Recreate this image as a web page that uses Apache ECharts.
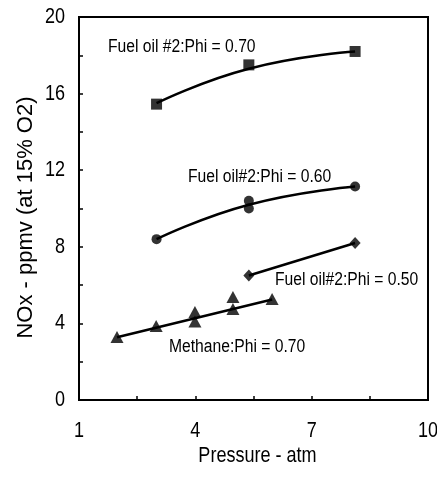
<!DOCTYPE html>
<html><head><meta charset="utf-8">
<script src="https://cdn.jsdelivr.net/npm/echarts@6/dist/echarts.min.js"></script>
<style>html,body{margin:0;padding:0;background:#fff}#c{width:437px;height:478px}</style>
</head><body><div id="c"></div>
<script>
// Data
const xTickLabels = [1, 4, 7, 10];
const xTicks = [2.5, 4, 5.5, 7, 8.5];
const yTickLabels = [0, 4, 8, 12, 16, 20];
const yTicks = [2, 4, 6, 8, 10, 12, 14, 16, 18];

const oil70X = [3.0, 5.38, 8.12];
const oil70Y = [15.45, 17.5, 18.2];
const oil70FitX = [3.0, 5.38, 8.12];
const oil70FitY = [15.5, 17.3, 18.2];

const oil60X = [3.0, 5.38, 5.38, 8.12];
const oil60Y = [8.4, 10.0, 10.4, 11.15];
const oil60FitX = [3.0, 5.38, 8.12];
const oil60FitY = [8.4, 10.2, 11.15];

const oil50X = [5.38, 8.12];
const oil50Y = [6.5, 8.2];

const methX = [1.98, 2.99, 3.99, 3.99, 4.97, 4.97, 5.98];
const methY = [3.29, 3.86, 4.6, 4.1, 5.38, 4.75, 5.27];
const methFitX = [1.98, 5.98];
const methFitY = [3.28, 5.25];

const labels = ['Fuel oil #2:Phi = 0.70', 'Fuel oil#2:Phi = 0.60', 'Fuel oil#2:Phi = 0.50', 'Methane:Phi = 0.70'];
const xName = 'Pressure - atm';
const yName = 'NOx - ppmv (at 15% O2)';

const zip = (a, b) => a.map((v, i) => [v, b[i]]);
const FONT = '"Liberation Sans", Arial, Helvetica, sans-serif';

const chart = echarts.init(document.getElementById('c'), null, {renderer: 'canvas'});
const lineStyle = {color: '#000', width: 2.5};
function fit(x, y) {
  return {type: 'line', data: zip(x, y), smooth: true, showSymbol: false, symbol: 'none',
    lineStyle: lineStyle, itemStyle: {color: '#000'}, silent: true, z: 2};
}
function pts(x, y, symbol, size) {
  return {type: 'scatter', data: zip(x, y), symbol: symbol, symbolSize: size,
    itemStyle: {color: '#000'}, silent: true, z: 3};
}

chart.setOption({
  animation: false,
  backgroundColor: '#fff',
  grid: {left: 79, top: 17, right: 9, bottom: 78, show: true, borderColor: '#000', borderWidth: 2, containLabel: false},
  xAxis: {
    type: 'value', min: 1, max: 10,
    axisLine: {show: true, lineStyle: {color: '#000', width: 2}},
    axisTick: {show: true, inside: true, length: 4, customValues: xTicks, lineStyle: {color: '#000', width: 1.5}},
    axisLabel: {show: false},
    splitLine: {show: false}
  },
  yAxis: {
    type: 'value', min: 0, max: 20,
    axisLine: {show: true, lineStyle: {color: '#000', width: 2}},
    axisTick: {show: true, inside: true, length: 4, customValues: yTicks, lineStyle: {color: '#000', width: 1.5}},
    axisLabel: {show: false},
    splitLine: {show: false}
  },
  series: [
    fit(oil70FitX, oil70FitY), pts(oil70X, oil70Y, 'rect', 11),
    fit(oil60FitX, oil60FitY), pts(oil60X, oil60Y, 'circle', 10),
    fit(oil50X, oil50Y), pts(oil50X, oil50Y, 'diamond', [11, 12]),
    fit(methFitX, methFitY), pts(methX, methY, 'triangle', [13, 12])
  ]
});

// Narrow-style text (Arial Narrow look): Liberation Sans squeezed horizontally.
function narrowText(t, x, y, size, sx, align, vAlign) {
  return {type: 'text', x: x, y: y, scaleX: sx, scaleY: 1, silent: true, z: 10,
    style: {text: t, x: 0, y: 0, font: size + 'px ' + FONT, fill: '#000', align: align, verticalAlign: vAlign}};
}
const g = [];
xTickLabels.forEach(v => {
  const p = chart.convertToPixel({gridIndex: 0}, [v, 0]);
  g.push(narrowText(String(v), p[0], p[1] + 31, 22, 0.82, 'center', 'middle'));
});
yTickLabels.forEach(v => {
  const p = chart.convertToPixel({gridIndex: 0}, [1, v]);
  g.push(narrowText(String(v), p[0] - 14, p[1], 22, 0.82, 'right', 'middle'));
});
const gx0 = chart.convertToPixel({gridIndex: 0}, [1, 0]);
const gx1 = chart.convertToPixel({gridIndex: 0}, [10, 20]);
g.push(narrowText(xName, (gx0[0] + gx1[0]) / 2 + 4, gx0[1] + 56, 22, 0.82, 'center', 'middle'));
g.push({type: 'text', x: 26, y: (gx0[1] + gx1[1]) / 2 + 9, rotation: Math.PI / 2, silent: true, z: 10,
  style: {text: yName, x: 0, y: 0, font: '22px ' + FONT, fill: '#000', align: 'center', verticalAlign: 'middle'}});
// series annotations
g.push(narrowText(labels[0], 108, 47, 18, 0.87, 'left', 'middle'));
g.push(narrowText(labels[1], 188, 177, 18, 0.87, 'left', 'middle'));
g.push(narrowText(labels[2], 275, 280, 18, 0.87, 'left', 'middle'));
g.push(narrowText(labels[3], 169, 347, 18, 0.87, 'left', 'middle'));
chart.setOption({graphic: g});
</script></body></html>
